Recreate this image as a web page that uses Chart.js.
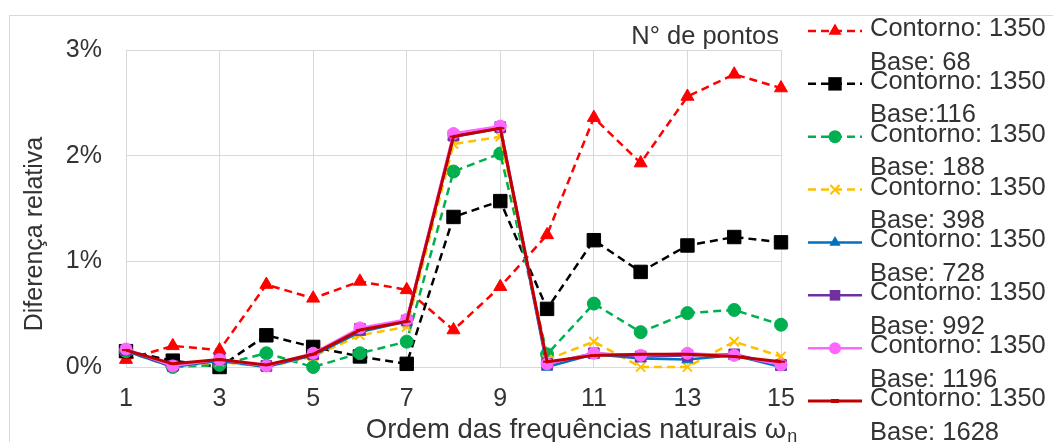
<!DOCTYPE html>
<html>
<head>
<meta charset="utf-8">
<title>Diferença relativa por ordem de frequência</title>
<script src="https://cdn.jsdelivr.net/npm/chart.js@4.4.1/dist/chart.umd.min.js"></script>
<style>
  html, body { margin: 0; padding: 0; background: #ffffff; }
  #wrap { width: 1053px; height: 442px; position: relative; overflow: hidden; }
  canvas { display: block; }
</style>
</head>
<body>
<div id="wrap"><canvas id="grafico" width="1053" height="442"></canvas></div>
<script>
// Ordem das frequências naturais (eixo x)
const ordens = [1, 2, 3, 4, 5, 6, 7, 8, 9, 10, 11, 12, 13, 14, 15];
const ticksX = [1, 3, 5, 7, 9, 11, 13, 15];
const ticksY = [0, 1, 2, 3];

// Diferença relativa (%) para cada malha: contorno 1350 pontos, base variável
const base68   = [0.07, 0.20, 0.16, 0.78, 0.65, 0.81, 0.73, 0.35, 0.76, 1.25, 2.36, 1.93, 2.56, 2.77, 2.64];
const base116  = [0.15, 0.06, 0.00, 0.30, 0.19, 0.10, 0.03, 1.42, 1.57, 0.55, 1.20, 0.90, 1.15, 1.23, 1.18];
const base188  = [0.15, 0.00, 0.02, 0.13, 0.00, 0.13, 0.24, 1.85, 2.02, 0.12, 0.60, 0.33, 0.51, 0.54, 0.40];
const base398  = [0.15, 0.00, 0.05, 0.00, 0.10, 0.30, 0.38, 2.11, 2.18, 0.07, 0.24, 0.00, 0.00, 0.24, 0.10];
const base728  = [0.15, 0.00, 0.06, 0.00, 0.11, 0.33, 0.43, 2.18, 2.26, 0.00, 0.12, 0.08, 0.07, 0.11, 0.00];
const base992  = [0.16, 0.01, 0.07, 0.01, 0.12, 0.36, 0.44, 2.19, 2.27, 0.03, 0.13, 0.10, 0.11, 0.12, 0.02];
const base1196 = [0.17, 0.01, 0.07, 0.01, 0.13, 0.37, 0.45, 2.21, 2.28, 0.03, 0.13, 0.11, 0.13, 0.11, 0.02];
const base1628 = [0.16, 0.03, 0.07, 0.02, 0.12, 0.35, 0.43, 2.18, 2.26, 0.05, 0.11, 0.12, 0.12, 0.10, 0.05];

const contornoTexto = 'Contorno: 1350';
const baseTextos = ['Base: 68', 'Base:116', 'Base: 188', 'Base: 398', 'Base: 728', 'Base: 992', 'Base: 1196', 'Base: 1628'];
const tituloLegenda = 'N° de pontos';
const tituloY = 'Diferença relativa';
const tituloX = 'Ordem das frequências naturais ω';
const tituloXIndice = 'n';

const FONTE = '"Liberation Sans", Arial, sans-serif';
const COR_TEXTO = '#333333';
const COR_GRADE = '#d9d9d9';

const estilos = [
  { cor: '#ff0000', traco: [8, 5], ponto: 'triangle', raio: 7.5, largura: 2.5 },
  { cor: '#000000', traco: [8, 5], ponto: 'rect',     raio: 9.5, largura: 2.5 },
  { cor: '#00b050', traco: [8, 5], ponto: 'circle',   raio: 6.5, largura: 2.5 },
  { cor: '#ffc000', traco: [8, 5], ponto: 'crossRot', raio: 6.5, largura: 2.5 },
  { cor: '#0070c0', traco: [],     ponto: 'triangle', raio: 6.5, largura: 2.5 },
  { cor: '#7030a0', traco: [],     ponto: 'rect',     raio: 7.5, largura: 2.5 },
  { cor: '#ff66ff', traco: [],     ponto: 'circle',   raio: 6,   largura: 2.5 },
  { cor: '#c00000', traco: [],     ponto: 'line',     raio: 4,   largura: 3 }
];
const series = [base68, base116, base188, base398, base728, base992, base1196, base1628];

const datasets = series.map((valores, i) => {
  const e = estilos[i];
  return {
    label: contornoTexto + ' ' + baseTextos[i],
    data: ordens.map((x, k) => ({ x: x, y: valores[k] })),
    borderColor: e.cor,
    backgroundColor: e.cor,
    borderWidth: e.largura,
    borderDash: e.traco,
    pointStyle: e.ponto,
    pointRadius: e.raio,
    pointHoverRadius: e.raio,
    pointBackgroundColor: e.cor,
    pointBorderColor: e.cor,
    pointBorderWidth: e.ponto === 'crossRot' || e.ponto === 'line' ? 2 : 1,
    tension: 0,
    fill: false,
    clip: false,
    order: series.length - i
  };
});

// Desenha um marcador da legenda com o mesmo estilo da série
function marcador(ctx, e, x, y) {
  ctx.save();
  ctx.setLineDash([]);
  ctx.fillStyle = e.cor;
  ctx.strokeStyle = e.cor;
  const r = e.raio;
  ctx.beginPath();
  if (e.ponto === 'triangle') {
    ctx.moveTo(x, y - r);
    ctx.lineTo(x + r * 0.866, y + r * 0.5);
    ctx.lineTo(x - r * 0.866, y + r * 0.5);
    ctx.closePath();
    ctx.fill();
  } else if (e.ponto === 'rect') {
    const s = r * Math.SQRT1_2;
    ctx.rect(x - s, y - s, 2 * s, 2 * s);
    ctx.fill();
  } else if (e.ponto === 'circle') {
    ctx.arc(x, y, r, 0, Math.PI * 2);
    ctx.fill();
  } else if (e.ponto === 'crossRot') {
    const s = r * Math.SQRT1_2;
    ctx.lineWidth = 2;
    ctx.moveTo(x - s, y - s); ctx.lineTo(x + s, y + s);
    ctx.moveTo(x - s, y + s); ctx.lineTo(x + s, y - s);
    ctx.stroke();
  } else if (e.ponto === 'line') {
    ctx.lineWidth = 4;
    ctx.moveTo(x - r, y); ctx.lineTo(x + r, y);
    ctx.stroke();
  }
  ctx.restore();
}

const decoracao = {
  id: 'decoracao',
  beforeDraw(chart) {
    const ctx = chart.ctx;
    ctx.save();
    ctx.fillStyle = '#ffffff';
    ctx.fillRect(0, 0, chart.width, chart.height);
    ctx.strokeStyle = COR_GRADE;
    ctx.lineWidth = 1;
    ctx.strokeRect(9.5, 15.5, chart.width + 20, chart.height + 20);
    ctx.restore();
  },
  afterDraw(chart) {
    const ctx = chart.ctx;
    const area = chart.chartArea;
    ctx.save();
    ctx.fillStyle = COR_TEXTO;
    ctx.font = '25px ' + FONTE;

    // título do eixo y
    ctx.save();
    ctx.translate(35, 234);
    ctx.rotate(-Math.PI / 2);
    ctx.textAlign = 'center';
    ctx.textBaseline = 'middle';
    ctx.fillText(tituloY, 0, 0);
    ctx.restore();

    // título do eixo x com índice n
    ctx.textBaseline = 'alphabetic';
    ctx.textAlign = 'left';
    ctx.font = '27.5px ' + FONTE;
    const wPrincipal = ctx.measureText(tituloX).width;
    ctx.font = '18px ' + FONTE;
    const wIndice = ctx.measureText(tituloXIndice).width;
    const x0 = 581 - (wPrincipal + wIndice) / 2;
    ctx.font = '27.5px ' + FONTE;
    ctx.fillText(tituloX, x0, 438);
    ctx.font = '18px ' + FONTE;
    ctx.fillText(tituloXIndice, x0 + wPrincipal + 1, 442);

    // título da legenda
    ctx.font = '25.5px ' + FONTE;
    ctx.textAlign = 'right';
    ctx.textBaseline = 'middle';
    ctx.fillText(tituloLegenda, area.right - 2, 37);

    // legenda
    const passo = 52.86;
    ctx.textAlign = 'left';
    estilos.forEach((e, i) => {
      const y = 29 + i * passo;
      ctx.save();
      ctx.strokeStyle = e.cor;
      ctx.lineWidth = e.largura;
      ctx.setLineDash(e.traco);
      ctx.beginPath();
      ctx.moveTo(808, y + 2);
      ctx.lineTo(862, y + 2);
      ctx.stroke();
      ctx.restore();
      marcador(ctx, e, 835, y + 2);
      ctx.fillStyle = COR_TEXTO;
      ctx.fillText(contornoTexto, 870, y);
      ctx.fillText(baseTextos[i], 870, y + 33.5);
    });
    ctx.restore();
  }
};

new Chart(document.getElementById('grafico'), {
  type: 'line',
  data: { datasets: datasets },
  plugins: [decoracao],
  options: {
    responsive: false,
    animation: false,
    events: [],
    layout: { padding: { top: 50, right: 272, left: 0, bottom: 0 } },
    plugins: {
      legend: { display: false },
      tooltip: { enabled: false },
      title: { display: false }
    },
    scales: {
      x: {
        type: 'linear',
        min: ordens[0],
        max: ordens[ordens.length - 1],
        afterFit(scale) { scale.height = 75; },
        afterBuildTicks(scale) { scale.ticks = ticksX.map(v => ({ value: v })); },
        border: { display: false },
        grid: { color: COR_GRADE, lineWidth: 1, drawTicks: false },
        ticks: {
          padding: 17,
          color: COR_TEXTO,
          font: { family: FONTE, size: 25 },
          maxRotation: 0,
          autoSkip: false
        }
      },
      y: {
        type: 'linear',
        min: ticksY[0],
        max: ticksY[ticksY.length - 1],
        afterFit(scale) { scale.width = 126; },
        afterBuildTicks(scale) { scale.ticks = ticksY.map(v => ({ value: v })); },
        border: { display: false },
        grid: { color: COR_GRADE, lineWidth: 1, drawTicks: false },
        ticks: {
          padding: 24,
          color: COR_TEXTO,
          font: { family: FONTE, size: 25 },
          callback: v => v + '%'
        }
      }
    }
  }
});
</script>
</body>
</html>
